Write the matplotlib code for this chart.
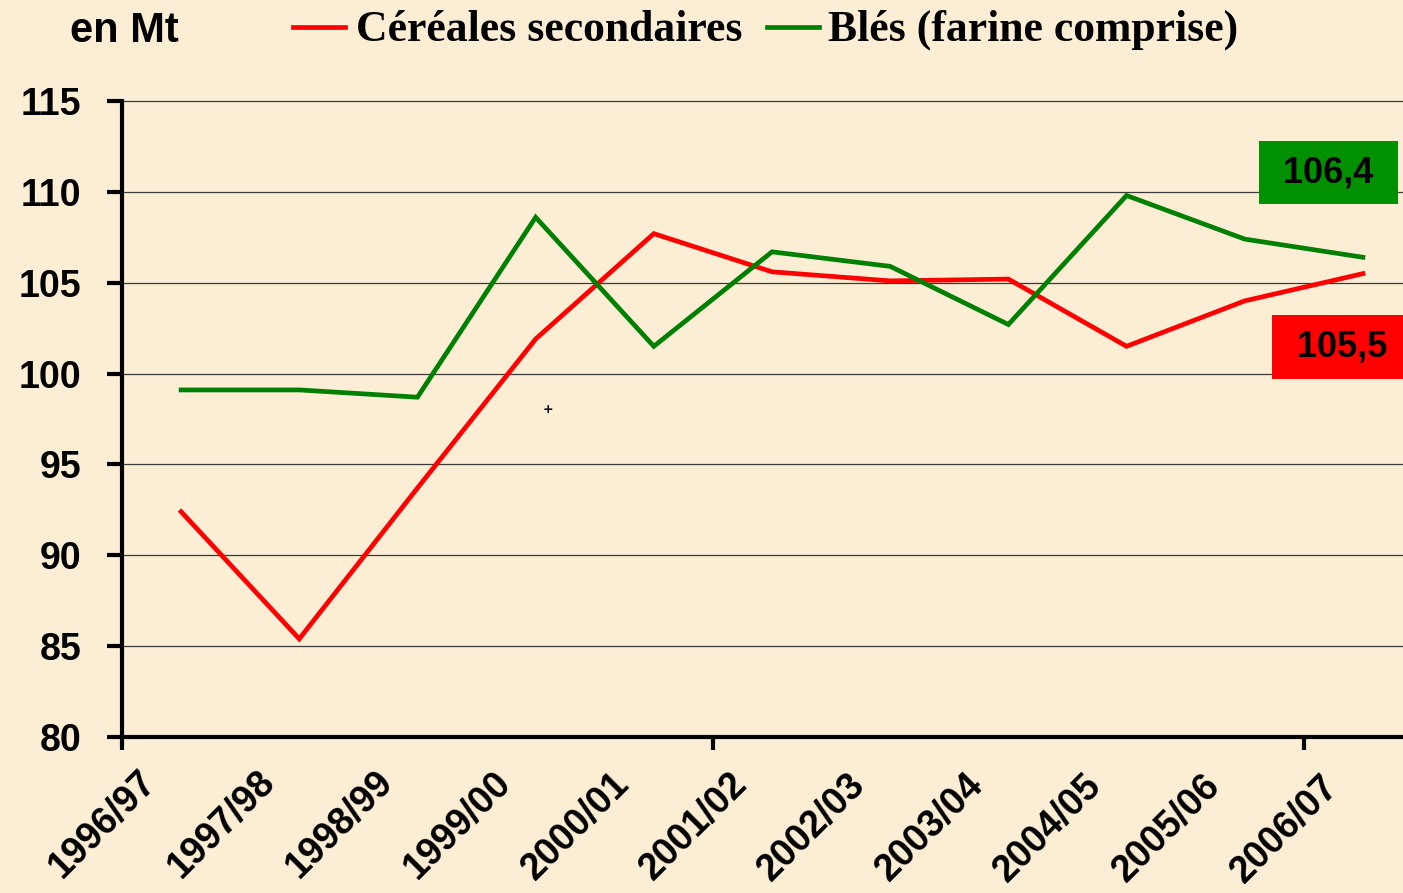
import matplotlib
matplotlib.use("Agg")
import matplotlib.pyplot as plt
from matplotlib.lines import Line2D
from matplotlib.transforms import ScaledTranslation

campagnes = ["1996/97", "1997/98", "1998/99", "1999/00", "2000/01", "2001/02",
             "2002/03", "2003/04", "2004/05", "2005/06", "2006/07"]
cereales_secondaires = [92.4, 85.4, 93.7, 101.9, 107.7, 105.6, 105.1, 105.2, 101.5, 104.0, 105.5]
bles = [99.1, 99.1, 98.7, 108.6, 101.5, 106.7, 105.9, 102.7, 109.8, 107.4, 106.4]
y_ticks = [80, 85, 90, 95, 100, 105, 110, 115]

W, H = 1403, 893
BG = "#FBEED4"
fig = plt.figure(figsize=(W / 100, H / 100), dpi=100, facecolor=BG)
ax = fig.add_axes([122 / W, (H - 737) / H, 1300 / W, 636 / H], facecolor=BG)

x = list(range(len(campagnes)))
ax.plot(x, cereales_secondaires, color="#FF0000", lw=3.4, solid_joinstyle="miter", zorder=3)
ax.plot(x, bles, color="#008000", lw=3.4, solid_joinstyle="miter", zorder=3)

ax.set_xlim(-0.5, 10.5)
ax.set_ylim(80, 115)
ax.set_yticks(y_ticks)
ax.set_yticklabels([str(v) for v in y_ticks], fontsize=27, fontweight="bold",
                   family="Liberation Sans")
for v in y_ticks[1:]:
    ax.axhline(v, color="#3a3a3a", lw=0.9, zorder=1, clip_on=False)

ax.spines["top"].set_visible(False)
ax.spines["right"].set_visible(False)
ax.spines["left"].set_linewidth(3)
ax.spines["bottom"].set_linewidth(3)
ax.tick_params(axis="y", direction="out", length=11, width=3, pad=18.5)

ax.set_xticks(x)
ax.set_xticklabels(campagnes, fontsize=27, fontweight="bold", family="Liberation Sans",
                   rotation=45, ha="right", va="top", rotation_mode="anchor")
ax.tick_params(axis="x", which="major", length=0, pad=19)
ax.set_xticks([-0.5, 4.5, 9.5], minor=True)
ax.tick_params(axis="x", which="minor", direction="out", length=9, width=3)
for i, lab in enumerate(ax.get_xticklabels()):
    off = ScaledTranslation(-43 / 100, -0.5 * i / 100, fig.dpi_scale_trans)
    lab.set_transform(lab.get_transform() + off)

# end-value labels
ax.annotate(" " + f"{bles[-1]:.1f}".replace(".", ",") + " ", xy=(x[-1], bles[-1]),
            xytext=(-25, 61), textcoords="offset points", ha="center", va="center",
            fontsize=26, fontweight="bold", family="Liberation Sans", color="black",
            bbox=dict(boxstyle="square,pad=0.4", fc="#009000", ec="none"),
            annotation_clip=False, zorder=5)
ax.annotate(" " + f"{cereales_secondaires[-1]:.1f}".replace(".", ",") + " ",
            xy=(x[-1], cereales_secondaires[-1]),
            xytext=(-15, -53), textcoords="offset points", ha="center", va="center",
            fontsize=26, fontweight="bold", family="Liberation Sans", color="black",
            bbox=dict(boxstyle="square,pad=0.4", fc="#FF0000", ec="none"),
            annotation_clip=False, zorder=5)

ax.text(3.1, 98.05, "+", fontsize=9, fontweight="bold", ha="center", va="center")

# header: unit and legend
fig.text(70 / W, 1 - 31 / H, "en Mt", fontsize=30, fontweight="bold",
         family="Liberation Sans", va="center", ha="left")
yl = 1 - 27 / H
fig.add_artist(Line2D([293 / W, 345 / W], [yl, yl], color="#FF0000", lw=3.4))
fig.text(356 / W, 1 - 30 / H, "Céréales secondaires", fontsize=31.5, fontweight="bold",
         family="Liberation Serif", va="center", ha="left")
fig.add_artist(Line2D([767 / W, 819 / W], [yl, yl], color="#008000", lw=3.4))
fig.text(828 / W, 1 - 30 / H, "Blés (farine comprise)", fontsize=31.5, fontweight="bold",
         family="Liberation Serif", va="center", ha="left")

fig.savefig("out.png", dpi=100, facecolor=BG)
